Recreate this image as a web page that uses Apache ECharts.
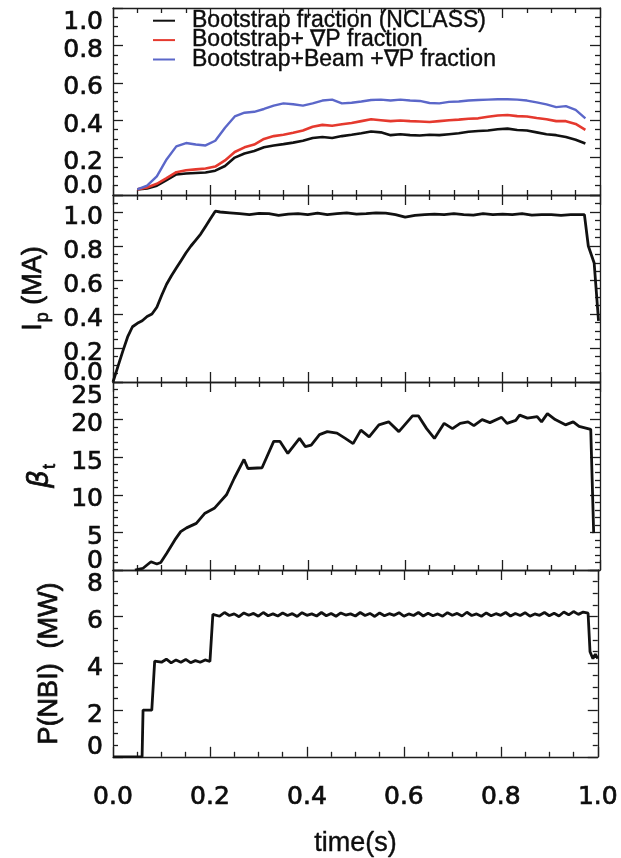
<!DOCTYPE html>
<html>
<head>
<meta charset="utf-8">
<script src="https://cdn.jsdelivr.net/npm/echarts@6/dist/echarts.min.js"></script>
<style>
  html, body { margin: 0; padding: 0; background: #ffffff; }
  #chart { width: 621px; height: 858px; }
</style>
</head>
<body>
<div id="chart"></div>
<script>
// ---- Panel 1: current fractions ----
const fracTime = [0.05,0.07,0.09,0.11,0.13,0.15,0.17,0.19,0.21,0.23,0.25,0.27,0.29,0.31,0.33,0.35,0.37,0.39,0.41,0.43,0.45,0.47,0.49,0.51,0.53,0.55,0.57,0.59,0.61,0.63,0.65,0.67,0.69,0.71,0.73,0.75,0.77,0.79,0.81,0.83,0.85,0.87,0.89,0.91,0.93,0.95,0.97];
const bootstrapNclass = [0.03,0.035,0.05,0.08,0.11,0.115,0.118,0.12,0.13,0.155,0.2,0.222,0.235,0.255,0.265,0.272,0.28,0.29,0.305,0.31,0.305,0.315,0.322,0.33,0.34,0.335,0.32,0.325,0.32,0.318,0.322,0.32,0.325,0.33,0.338,0.342,0.345,0.352,0.355,0.348,0.345,0.335,0.325,0.32,0.31,0.295,0.275];
const bootstrapGradP = [0.03,0.04,0.06,0.09,0.122,0.132,0.137,0.142,0.152,0.185,0.23,0.255,0.27,0.3,0.315,0.322,0.333,0.345,0.365,0.375,0.37,0.378,0.385,0.395,0.405,0.4,0.395,0.398,0.395,0.393,0.39,0.395,0.4,0.403,0.408,0.41,0.418,0.425,0.428,0.422,0.42,0.412,0.405,0.395,0.395,0.38,0.348];
const bootstrapBeamGradP = [0.03,0.05,0.1,0.19,0.26,0.278,0.27,0.265,0.29,0.36,0.42,0.44,0.445,0.46,0.478,0.49,0.485,0.478,0.49,0.505,0.51,0.49,0.493,0.5,0.508,0.51,0.505,0.51,0.505,0.503,0.492,0.49,0.498,0.5,0.505,0.508,0.51,0.512,0.512,0.51,0.505,0.495,0.485,0.47,0.475,0.455,0.41];
const fracNames = ['Bootstrap fraction (NCLASS)', 'Bootstrap+ \u2207P fraction', 'Bootstrap+Beam +\u2207P fraction'];
const fracTicks = [0.0, 0.2, 0.4, 0.6, 0.8, 1.0];

// ---- Panel 2: plasma current ----
const ipTime = [0,0.01,0.02,0.03,0.04,0.05,0.06,0.07,0.08,0.09,0.10,0.11,0.12,0.13,0.14,0.15,0.16,0.17,0.18,0.19,0.20,0.21,0.22,
  0.24,0.26,0.28,0.30,0.32,0.34,0.36,0.38,0.40,0.42,0.44,0.46,0.48,0.50,0.52,0.54,0.56,0.58,0.60,0.62,0.64,0.66,0.68,0.70,0.72,0.74,0.76,0.78,0.80,0.82,0.84,0.86,0.88,0.90,0.92,0.94,0.96,
  0.968,0.976,0.988,0.997];
const ipMA = [0,0.09,0.18,0.265,0.325,0.345,0.36,0.385,0.40,0.44,0.51,0.575,0.625,0.67,0.715,0.76,0.80,0.835,0.87,0.915,0.96,1.005,1.0,
  0.995,0.99,0.985,0.992,0.99,0.98,0.988,0.99,0.985,0.993,0.985,0.99,0.995,0.988,0.99,0.995,0.993,0.985,0.97,0.98,0.985,0.988,0.985,0.99,0.985,0.982,0.99,0.985,0.988,0.985,0.99,0.982,0.985,0.985,0.98,0.985,0.985,
  0.985,0.80,0.70,0.36];
const ipTicks = [0.0, 0.2, 0.4, 0.6, 0.8, 1.0];

// ---- Panel 3: toroidal beta ----
const betaTime = [0.045,0.061,0.078,0.09,0.098,0.11,0.127,0.139,0.151,0.171,0.188,0.208,0.233,0.249,0.269,0.277,0.306,0.33,0.343,0.359,0.383,0.395,0.407,0.424,0.44,0.46,0.477,0.493,0.509,0.526,0.546,0.566,0.587,0.615,0.627,0.644,0.66,0.68,0.697,0.713,0.729,0.741,0.758,0.774,0.798,0.809,0.827,0.835,0.851,0.871,0.88,0.892,0.908,0.929,0.945,0.957,0.981,0.987];
const betaT = [0,0.2,1.1,0.8,1.0,2.2,4.0,5.1,5.6,6.2,7.5,8.2,10,12.2,14.7,13.5,13.6,17.1,17.1,15.5,17.5,16.4,16.6,18,18.4,18.2,17.5,16.8,18.6,17.7,19.3,19.7,18.4,20.5,20.5,18.8,17.5,19.5,18.8,19.5,19.7,19.2,20,19.6,20.3,19.5,19.9,20.6,20.2,20.4,19.7,20.8,20,19.3,19.7,19.1,18.7,4.9];
const betaTicks = [0, 5, 10, 15, 20, 25];

// ---- Panel 4: neutral beam power ----
const nbiTime = [0,0.06,0.062,0.08,0.086,
  0.09,0.10,0.11,0.12,0.13,0.14,0.15,0.16,0.17,0.18,0.19,0.20,0.206,
  0.21,0.22,0.23,0.24,0.25,0.26,0.27,0.28,0.29,0.30,0.31,0.32,0.33,0.34,0.35,0.36,0.37,0.38,0.39,0.40,
  0.41,0.42,0.43,0.44,0.45,0.46,0.47,0.48,0.49,0.50,0.51,0.52,0.53,0.54,0.55,0.56,0.57,0.58,0.59,0.60,
  0.61,0.62,0.63,0.64,0.65,0.66,0.67,0.68,0.69,0.70,0.71,0.72,0.73,0.74,0.75,0.76,0.77,0.78,0.79,0.80,
  0.81,0.82,0.83,0.84,0.85,0.86,0.87,0.88,0.89,0.90,0.91,0.92,0.93,0.94,0.95,0.96,0.97,0.98,
  0.984,0.99,0.995,1.0];
const nbiMW = [0,0,2.0,2.0,4.1,
  4.15,4.05,4.18,4.02,4.15,4.05,4.17,4.03,4.12,4.05,4.15,4.08,6.1,
  6.15,6.02,6.18,6.05,6.12,6.0,6.16,6.06,6.14,6.02,6.18,6.04,6.12,6.03,6.16,6.05,6.13,6.01,6.17,6.06,
  6.12,6.03,6.18,6.04,6.14,6.02,6.16,6.07,6.12,6.03,6.18,6.05,6.14,6.01,6.16,6.04,6.13,6.06,6.17,6.02,
  6.12,6.05,6.18,6.03,6.15,6.04,6.12,6.02,6.17,6.06,6.14,6.03,6.19,6.05,6.12,6.02,6.16,6.04,6.13,6.06,
  6.18,6.03,6.14,6.05,6.17,6.02,6.12,6.06,6.18,6.04,6.15,6.03,6.2,6.08,6.22,6.1,6.2,6.15,
  4.5,4.2,4.4,4.2];
const nbiTicks = [0, 2, 4, 6, 8];

const timeTicks = [0.0, 0.2, 0.4, 0.6, 0.8, 1.0];

const pairs = (xs, ys) => xs.map((x, i) => [x, ys[i]]);

const frameColor = '#1e1e1e';
const inkColor = '#0d0d0d';
const tickFont = 'DejaVu Sans';
const textFont = 'Liberation Sans';
// a thin outline in the text colour gives the heavier stroke of the printed labels
const heavy = { textBorderColor: inkColor, textBorderWidth: 0.7 };

// edgeTop: the top tick label is pulled down inside the panel
const panels = [
  { top: 8,   height: 187, min: 0, max: 1.0, interval: 0.2, minorSplit: 4, digits: 1, ticks: fracTicks, edgeTop: true,  name: '' },
  { top: 195, height: 187, min: 0, max: 1.1, interval: 0.2, minorSplit: 4, digits: 1, ticks: ipTicks,   edgeTop: false, name: '{a|I}{sub|p}{a| (MA)}', nameGap: 55 },
  { top: 382, height: 188, min: 0, max: 25,  interval: 5,   minorSplit: 5, digits: 0, ticks: betaTicks, edgeTop: true,  name: '{g|\u03b2}{sub|t}', nameGap: 54 },
  { top: 570, height: 187, min: 0, max: 8,   interval: 2,   minorSplit: 4, digits: 0, ticks: nbiTicks,  edgeTop: true,  name: 'P(NBI)  (MW)', nameGap: 50 }
];

// Tick labels sit a little below their ticks; the end labels are pulled inside the panel.
const labelBase = Object.assign({ fontFamily: tickFont, fontSize: 25, color: inkColor }, heavy);
const labelRich = {
  n:  Object.assign({}, labelBase, { padding: [10, 0, 0, 0] }),
  hi: Object.assign({}, labelBase, { padding: [28, 0, 0, 0] }),
  lo: Object.assign({}, labelBase, { padding: [0, 0, 18, 0] })
};

const nameRich = {
  a:   Object.assign({ fontFamily: textFont, fontSize: 27, color: inkColor, verticalAlign: 'top' }, heavy),
  g:   Object.assign({ fontFamily: 'DejaVu Sans', fontStyle: 'italic', fontSize: 28, color: inkColor, verticalAlign: 'top' }, heavy),
  sub: Object.assign({ fontFamily: textFont, fontSize: 18, color: inkColor, verticalAlign: 'top', padding: [14, 0, 0, 1] }, heavy)
};

const grid = [], xAxis = [], yAxis = [];
const lineStyleFrame = { color: frameColor, width: 1.3 };
const yIndex = [];   // index of the main left y axis of each panel

panels.forEach((p, i) => {
  grid.push({ left: 113, right: 21, top: p.top, height: p.height, containLabel: false });
  const isLast = i === panels.length - 1;
  const xBase = {
    type: 'value', gridIndex: i, min: 0, max: 1, interval: 0.2,
    axisLine: { show: true, onZero: false, lineStyle: lineStyleFrame },
    axisTick: { show: true, inside: true, length: 10, lineStyle: lineStyleFrame },
    minorTick: { show: true, splitNumber: 4, length: 5, lineStyle: lineStyleFrame },
    splitLine: { show: false }
  };
  xAxis.push(Object.assign({}, xBase, {
    position: 'bottom',
    axisLabel: Object.assign({
      show: isLast, margin: 28, fontFamily: tickFont, fontSize: 25, color: inkColor,
      showMinLabel: true, showMaxLabel: true,
      formatter: v => timeTicks.some(t => Math.abs(t - v) < 1e-9) ? v.toFixed(1) : ''
    }, heavy),
    name: isLast ? 'time(s)' : '', nameLocation: 'middle', nameGap: 73,
    nameTextStyle: Object.assign({ fontFamily: textFont, fontSize: 27, color: inkColor }, { textBorderColor: inkColor, textBorderWidth: 0.4 })
  }));
  xAxis.push(Object.assign({}, xBase, { position: 'top', axisLabel: { show: false } }));

  const lo = p.ticks[0];
  const hi = p.ticks[p.ticks.length - 1];
  const edgeValues = p.edgeTop ? [lo, hi] : [lo];
  const innerValues = p.ticks.filter(v => edgeValues.indexOf(v) < 0);

  const yBase = {
    type: 'value', gridIndex: i, min: p.min, max: p.max, interval: p.interval,
    axisLine: { show: true, onZero: false, lineStyle: lineStyleFrame },
    axisTick: { show: true, inside: true, length: 10, lineStyle: lineStyleFrame },
    minorTick: { show: true, splitNumber: p.minorSplit, length: 5, lineStyle: lineStyleFrame },
    splitLine: { show: false }
  };
  yIndex.push(yAxis.length);
  // main left axis: frame, ticks and the inner tick labels
  yAxis.push(Object.assign({}, yBase, {
    position: 'left',
    axisLabel: {
      margin: 10, rich: labelRich, customValues: innerValues,
      formatter: v => '{n|' + v.toFixed(p.digits) + '}'
    },
    name: p.name, nameLocation: 'middle', nameRotate: 90, nameGap: p.nameGap || 50,
    nameTextStyle: Object.assign({ fontFamily: textFont, fontSize: 27, color: inkColor, rich: nameRich }, heavy)
  }));
  // companion left axis carrying only the end labels
  yAxis.push(Object.assign({}, yBase, {
    position: 'left', offset: 0,
    axisLine: { show: false }, axisTick: { show: false }, minorTick: { show: false },
    axisLabel: {
      margin: 10, rich: labelRich, customValues: edgeValues,
      formatter: v => (Math.abs(v - lo) < 1e-9 ? '{lo|' : '{hi|') + v.toFixed(p.digits) + '}'
    }
  }));
  yAxis.push(Object.assign({}, yBase, { position: 'right', axisLabel: { show: false } }));
});

const lineSeries = (name, xi, yi, data, color, width) => ({
  name, type: 'line', xAxisIndex: xi, yAxisIndex: yi, data, color,
  showSymbol: false, symbol: 'none', smooth: false, clip: true,
  lineStyle: { color, width }, z: 3
});

const option = {
  backgroundColor: '#ffffff',
  animation: false,
  legend: {
    data: fracNames, orient: 'vertical', left: 148, top: 4, itemGap: -4,
    itemWidth: 22, itemHeight: 2, icon: 'rect', selectedMode: false,
    textStyle: Object.assign({ fontFamily: textFont, fontSize: 23, color: inkColor, lineHeight: 19, padding: [0, 0, 0, 12] }, { textBorderColor: inkColor, textBorderWidth: 0.4 })
  },
  grid, xAxis, yAxis,
  series: [
    lineSeries(fracNames[0], 0, yIndex[0], pairs(fracTime, bootstrapNclass), '#111111', 2.6),
    lineSeries(fracNames[1], 0, yIndex[0], pairs(fracTime, bootstrapGradP), '#e5392e', 2.6),
    lineSeries(fracNames[2], 0, yIndex[0], pairs(fracTime, bootstrapBeamGradP), '#5b67c9', 2.4),
    lineSeries('Ip', 2, yIndex[1], pairs(ipTime, ipMA), '#111111', 2.8),
    lineSeries('beta_t', 4, yIndex[2], pairs(betaTime, betaT), '#111111', 2.8),
    lineSeries('P_NBI', 6, yIndex[3], pairs(nbiTime, nbiMW), '#111111', 2.8)
  ]
};

const chart = echarts.init(document.getElementById('chart'));
chart.setOption(option);
</script>
</body>
</html>
